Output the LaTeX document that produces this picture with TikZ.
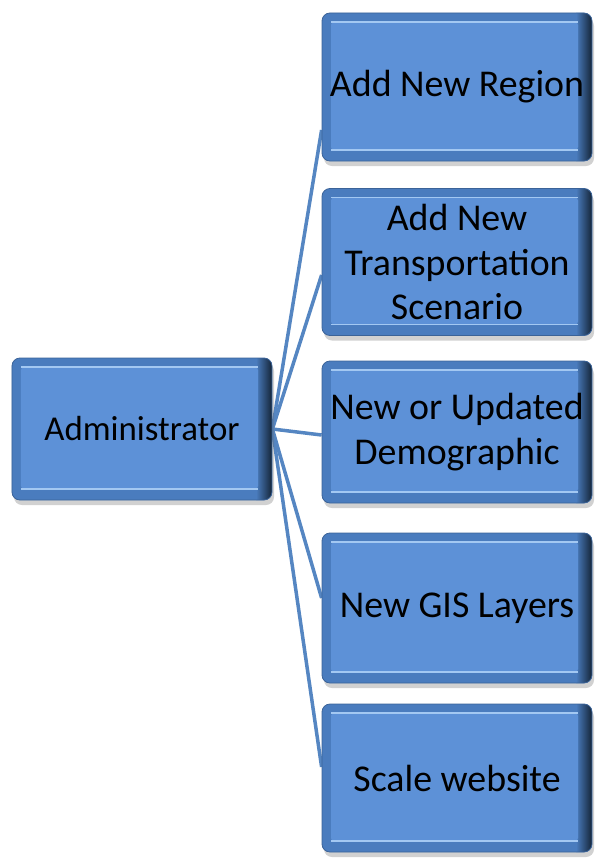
\documentclass[tikz,border=0pt]{standalone}
\usepackage{fontspec}
\setmainfont{Carlito}
\usetikzlibrary{calc,backgrounds}
\definecolor{face}{HTML}{5D91D7}
\definecolor{rim}{HTML}{4A7CBE}
\definecolor{rimdark}{HTML}{142437}
\definecolor{glint}{HTML}{A3C8F2}
\definecolor{wire}{HTML}{5586C2}

\tikzset{
  tile/.style={rectangle, rounded corners=8bp, inner sep=0pt, fill=rim,
    draw=rim!80!black, line width=0.8bp, align=center, text=black,
    font=\fontsize{38}{45}\selectfont,
    preaction={fill=black!60, opacity=0.3, transform canvas={shift={(2bp,-5bp)}}},
    path picture={
      \coordinate (sw) at (path picture bounding box.south west);
      \coordinate (ne) at (path picture bounding box.north east);
      % dark right flank
      \shade[left color=rim, right color=rimdark, rounded corners=0pt]
        ($(ne)+(-16bp,0bp)$) rectangle (sw -| ne);
      % raised face
      \fill[face, rounded corners=3bp] ($(sw)+(9bp,11bp)$) rectangle ($(ne)+(-14bp,-9bp)$);
      % highlight lines along the bevel
      \draw[glint, line width=1.6bp, rounded corners=0pt]
        ($(sw)+(9bp,11bp)$) -- ($(sw -| ne)+(-14bp,11bp)$);
      \draw[glint, line width=1.2bp, rounded corners=0pt]
        ($(sw |- ne)+(9bp,-9bp)$) -- ($(ne)+(-14bp,-9bp)$);
    }},
  link/.style={draw=wire, line width=3.5bp}
}

\begin{document}
\begin{tikzpicture}[x=1bp, y=-1bp]
  \useasboundingbox (0,0) rectangle (597,862);

  \node[tile, minimum width=260bp, minimum height=142bp,
        font=\fontsize{35}{45}\selectfont] (adm) at (142,429) {Administrator};

  \node[tile, minimum width=270bp, minimum height=148bp] (b1) at (457,87) {Add New Region};
  \node[tile, minimum width=270bp, minimum height=147bp] (b2) at (457,262) {Add New\\Transportation\\Scenario};
  \node[tile, minimum width=270bp, minimum height=142bp] (b3) at (457,432) {New or Updated\\Demographic};
  \node[tile, minimum width=270bp, minimum height=150bp] (b4) at (457,608) {New GIS Layers};
  \node[tile, minimum width=270bp, minimum height=148bp] (b5) at (457,778) {Scale website};

  \begin{scope}[on background layer]
    \draw[link] (adm.east) -- ([yshift=-43bp]b1.west);
    \draw[link] (adm.east) -- ([yshift=-13bp]b2.west);
    \draw[link] (adm.east) -- ([yshift=-3bp]b3.west);
    \draw[link] (adm.east) -- ([yshift=10bp]b4.west);
    \draw[link] (adm.east) -- ([yshift=11bp]b5.west);
  \end{scope}
\end{tikzpicture}
\end{document}
